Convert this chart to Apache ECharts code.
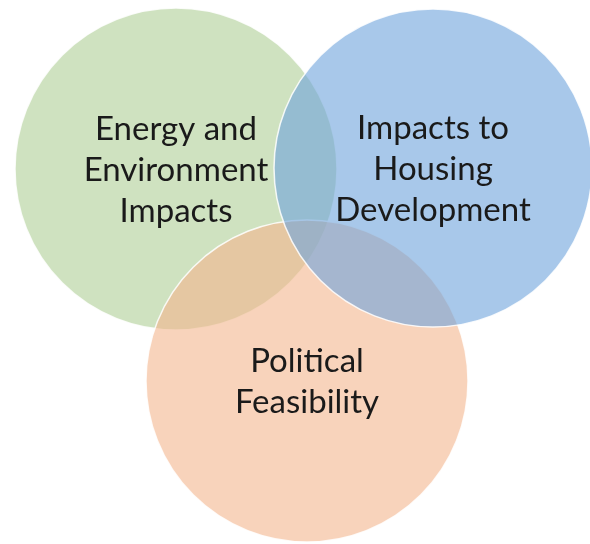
<!DOCTYPE html>
<html>
<head>
<meta charset="utf-8">
<script src="https://cdn.jsdelivr.net/npm/echarts@6/dist/echarts.min.js"></script>
<style>
  html, body { margin: 0; padding: 0; background: #ffffff; }
  #chart { width: 590px; height: 544px; }
</style>
</head>
<body>
<div id="chart"></div>
<script>
// Three overlapping sets of the venn diagram
const setNames = ['Energy and\nEnvironment\nImpacts', 'Political\nFeasibility', 'Impacts to\nHousing\nDevelopment'];
const centerX = [176, 307, 433];
const centerY = [169, 381, 168];
const radius = [161, 161, 159];

const fillColors = ['rgba(175,207,150,0.6)', 'rgba(243,182,142,0.6)', 'rgba(110,163,220,0.6)'];

const circleData = setNames.map((n, i) => ({ name: n, value: [centerX[i], centerY[i], radius[i]] }));

const chart = echarts.init(document.getElementById('chart'));
chart.setOption({
  animation: false,
  backgroundColor: '#ffffff',
  grid: { left: 0, right: 0, top: 0, bottom: 0 },
  xAxis: { type: 'value', min: 0, max: 590, show: false },
  yAxis: { type: 'value', min: 0, max: 544, inverse: true, show: false },
  series: [
    {
      type: 'custom',
      coordinateSystem: 'cartesian2d',
      data: circleData,
      z: 1,
      renderItem: function (params, api) {
        const c = api.coord([api.value(0), api.value(1)]);
        const r = api.size([api.value(2), api.value(2)])[0];
        return {
          type: 'circle',
          shape: { cx: c[0], cy: c[1], r: r },
          style: { fill: fillColors[params.dataIndex], stroke: 'rgba(255,255,255,0.85)', lineWidth: 1.5 }
        };
      }
    },
    {
      type: 'custom',
      coordinateSystem: 'cartesian2d',
      data: circleData,
      z: 2,
      renderItem: function (params, api) {
        const c = api.coord([api.value(0), api.value(1)]);
        return {
          type: 'text',
          x: c[0],
          y: c[1] + 1,
          style: {
            text: setNames[params.dataIndex],
            fill: '#1a1a1a',
            font: '33px Lato',
            lineHeight: 41,
            align: 'center',
            verticalAlign: 'middle'
          }
        };
      }
    }
  ]
});
</script>
</body>
</html>
